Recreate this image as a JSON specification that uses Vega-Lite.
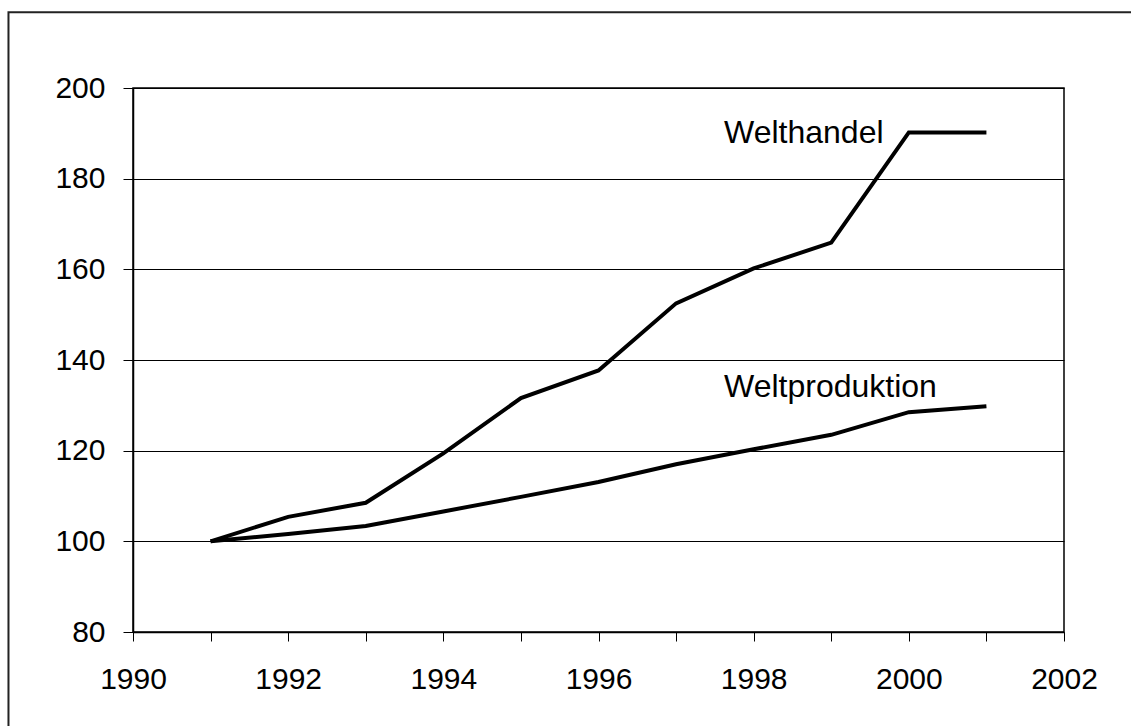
{
  "$schema": "https://vega.github.io/schema/vega-lite/v6.json",
  "width": 931,
  "height": 544,
  "autosize": {"type": "none"},
  "padding": {"left": 133, "top": 88, "right": 67, "bottom": 94},
  "background": "white",
  "config": {
    "view": {"stroke": "black", "strokeWidth": 1.5},
    "font": "Liberation Sans",
    "axis": {
      "labelFont": "Liberation Sans",
      "labelFontSize": 30,
      "labelColor": "black",
      "domainColor": "black",
      "domainWidth": 1.5,
      "tickColor": "black",
      "tickWidth": 1,
      "gridColor": "black",
      "gridWidth": 1,
      "gridOpacity": 1,
      "title": null
    }
  },
  "layer": [
    {
      "data": {
        "values": [
          {"year": 1991, "series": "Welthandel", "value": 100},
          {"year": 1992, "series": "Welthandel", "value": 105.4},
          {"year": 1993, "series": "Welthandel", "value": 108.5},
          {"year": 1994, "series": "Welthandel", "value": 119.4},
          {"year": 1995, "series": "Welthandel", "value": 131.6},
          {"year": 1996, "series": "Welthandel", "value": 137.7},
          {"year": 1997, "series": "Welthandel", "value": 152.5},
          {"year": 1998, "series": "Welthandel", "value": 160.2},
          {"year": 1999, "series": "Welthandel", "value": 165.9},
          {"year": 2000, "series": "Welthandel", "value": 190.2},
          {"year": 2001, "series": "Welthandel", "value": 190.2},
          {"year": 1991, "series": "Weltproduktion", "value": 100},
          {"year": 1992, "series": "Weltproduktion", "value": 101.6},
          {"year": 1993, "series": "Weltproduktion", "value": 103.4},
          {"year": 1994, "series": "Weltproduktion", "value": 106.6},
          {"year": 1995, "series": "Weltproduktion", "value": 109.8},
          {"year": 1996, "series": "Weltproduktion", "value": 113.1},
          {"year": 1997, "series": "Weltproduktion", "value": 117.0},
          {"year": 1998, "series": "Weltproduktion", "value": 120.3},
          {"year": 1999, "series": "Weltproduktion", "value": 123.5},
          {"year": 2000, "series": "Weltproduktion", "value": 128.5},
          {"year": 2001, "series": "Weltproduktion", "value": 129.8}
        ]
      },
      "mark": {"type": "line", "stroke": "black", "strokeWidth": 4, "clip": false},
      "encoding": {
        "x": {
          "field": "year",
          "type": "quantitative",
          "scale": {"domain": [1990, 2002], "nice": false, "zero": false},
          "axis": {
            "values": [1990, 1991, 1992, 1993, 1994, 1995, 1996, 1997, 1998, 1999, 2000, 2001, 2002],
            "labelExpr": "datum.value % 2 == 0 ? format(datum.value, 'd') : ''",
            "grid": false,
            "tickSize": 9,
            "labelPadding": 23,
            "labelFlush": false,
            "labelOverlap": false
          }
        },
        "y": {
          "field": "value",
          "type": "quantitative",
          "scale": {"domain": [80, 200], "nice": false, "zero": false},
          "axis": {
            "values": [80, 100, 120, 140, 160, 180, 200],
            "grid": true,
            "tickSize": 10,
            "labelPadding": 18,
            "labelFlush": false,
            "labelOverlap": false
          }
        },
        "detail": {"field": "series", "type": "nominal"}
      }
    },
    {
      "data": {"values": [{"label": "Welthandel"}]},
      "mark": {"type": "text", "align": "left", "baseline": "alphabetic", "fontSize": 32, "font": "Liberation Sans", "color": "black"},
      "encoding": {
        "text": {"field": "label"},
        "x": {"datum": 1997.618},
        "y": {"datum": 187.8}
      }
    },
    {
      "data": {"values": [{"label": "Weltproduktion"}]},
      "mark": {"type": "text", "align": "left", "baseline": "alphabetic", "fontSize": 32, "font": "Liberation Sans", "color": "black"},
      "encoding": {
        "text": {"field": "label"},
        "x": {"datum": 1997.618},
        "y": {"datum": 131.8}
      }
    },
    {
      "data": {"values": [{}]},
      "mark": {"type": "rect", "filled": false, "stroke": "#222222", "strokeWidth": 2, "clip": false},
      "encoding": {
        "x": {"datum": 1988.395},
        "x2": {"datum": 2003.2},
        "y": {"datum": 216.7},
        "y2": {"datum": 55}
      }
    }
  ]
}
